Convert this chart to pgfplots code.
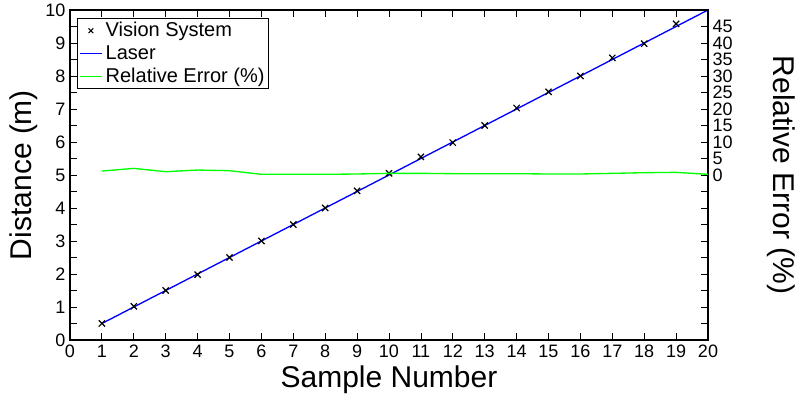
\documentclass[border=0pt]{standalone}
\usepackage{pgfplots}
\pgfplotsset{compat=1.18}
\usepackage{fontspec}
\setmainfont{Liberation Sans}
\begin{document}
\begin{tikzpicture}
\useasboundingbox (-52.5pt,-43.5pt) rectangle (544.5pt,255pt);
\pgfplotsset{
  common/.style={
    scale only axis, width=478.5pt, height=247.5pt,
    xmin=0, xmax=20,
    /pgf/number format/assume math mode=true,
    tick align=inside,
    tick label style={font=\fontsize{13.5}{15}\selectfont},
    label style={font=\fontsize{22.5}{25}\selectfont},
    axis line style={line width=1pt},
    major tick length=5pt, minor tick length=5pt,
    every tick/.style={black, line width=0.6pt},
  }
}
\begin{axis}[common,
  ymin=0, ymax=10,
  xtick={0,1,...,20},
  ytick={0,1,...,10},
  minor ytick={0.5,1.5,...,9.5},
  xlabel={Sample Number},
  ylabel={Distance (m)},
  xlabel style={yshift=1pt},
  ylabel style={yshift=-1pt},
  ytick pos=left,
  xtick pos=both,
]
\addplot[blue, line width=1pt] coordinates {
(1,0.5) (2,1.0) (3,1.5) (4,2.0) (5,2.5) (6,3.0) (7,3.5) (8,4.0) (9,4.5) (10,5.0)
(11,5.5) (12,6.0) (13,6.5) (14,7.0) (15,7.5) (16,8.0) (17,8.5) (18,9.0) (19,9.5) (20,10.0)};
\addplot[only marks, black, mark=x, mark size=3.3pt, line width=0.9pt] coordinates {
(1,0.5) (2,1.02) (3,1.5) (4,1.98) (5,2.5) (6,3.0) (7,3.5) (8,4.0) (9,4.52) (10,5.05)
(11,5.55) (12,5.98) (13,6.5) (14,7.03) (15,7.52) (16,8.0) (17,8.55) (18,8.98) (19,9.58)};
\end{axis}
\begin{axis}[common,
  ymin=-50, ymax=50,
  axis y line*=right,
  axis x line=none,
  ytick={0,5,...,45},
  minor ytick={-50,-45,...,50},
  ylabel={Relative Error (\%)},
  ylabel style={rotate=180, yshift=19pt},
  legend style={font=\fontsize{15}{17}\selectfont,
    draw=black, line width=0.8pt, inner sep=1pt, row sep=1pt},
  legend cell align=left,
  legend style={at={(0.011,0.976)}, anchor=north west},
]
\addlegendimage{only marks, black, mark=x, mark size=2.5pt, line width=0.8pt}
\addlegendentry{Vision System}
\addlegendimage{blue, line width=1pt}
\addlegendentry{Laser}
\addplot[green, line width=1pt] coordinates {
(1,1.2) (2,2.0) (3,1.0) (4,1.5) (5,1.3) (6,0.2) (7,0.2) (8,0.2) (9,0.3) (10,0.5)
(11,0.5) (12,0.4) (13,0.4) (14,0.4) (15,0.3) (16,0.3) (17,0.5) (18,0.7) (19,0.8) (20,0.2)};
\addlegendentry{Relative Error (\%)}
\end{axis}
\end{tikzpicture}
\end{document}
